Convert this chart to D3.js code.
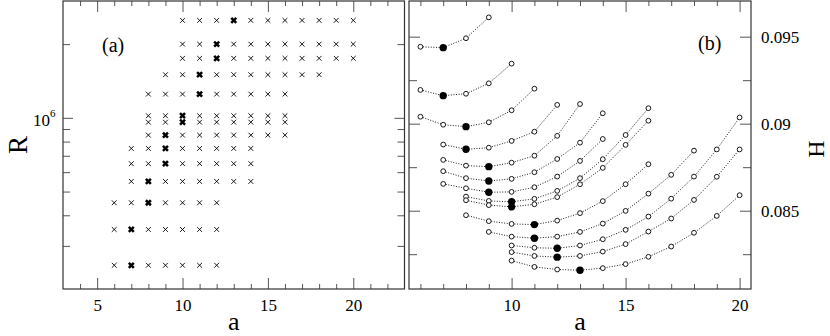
<!DOCTYPE html>
<html lang="en">

<head>
    <meta charset="UTF-8">
    <title>R and H against a</title>
    <script src="https://d3js.org/d3.v7.min.js"></script>
    <style>
        body {
            margin: 0;
            padding: 0;
            background: #fff;
        }

        svg text {
            font-family: "Liberation Serif", "DejaVu Serif", serif;
            fill: #000;
        }
    </style>
</head>

<body>
    <svg id="vis" width="830" height="336"></svg>
    <script>
        // panel (a): one row of crosses per R, a from first to last, bold at best a
        const rowR = [2.5e6, 2.0e6, 1.75e6, 1.5e6, 1.25e6, 1.02e6, 0.96e6, 8.5e5, 7.5e5, 6.5e5, 5.5e5, 4.5e5, 3.5e5, 2.5e5];
        const rowFirstA = [10, 10, 10, 9, 8, 8, 8, 8, 7, 7, 7, 6, 6, 6];
        const rowLastA = [20, 20, 20, 18, 16, 16, 16, 16, 14, 14, 14, 12, 12, 12];
        const rowBestA = [13, 12, 12, 11, 11, 10, 10, 9, 9, 9, 8, 8, 7, 7];

        // panel (b): H for each curve, starting at curveFirstA, filled dot at curveBestA
        const curveFirstA = [6, 6, 6, 7, 7, 7, 7, 8, 8, 8, 9, 10, 10, 10];
        const curveBestA = [7, 7, 8, 8, 9, 9, 9, 10, 10, 11, 11, 12, 12, 13];
        const curveH = [
            [0.09442, 0.09437, 0.09491, 0.09611],
            [0.09194, 0.09161, 0.09172, 0.09232, 0.09345],
            [0.09040, 0.08994, 0.08983, 0.09008, 0.09077, 0.09201],
            [0.08880, 0.08853, 0.08862, 0.08901, 0.08954, 0.09108],
            [0.08792, 0.08759, 0.08753, 0.08776, 0.08816, 0.08930, 0.09113],
            [0.08727, 0.08687, 0.08671, 0.08683, 0.08721, 0.08797, 0.08891, 0.09060],
            [0.08654, 0.08629, 0.08606, 0.08608, 0.08635, 0.08696, 0.08786, 0.08912],
            [0.08581, 0.08556, 0.08551, 0.08568, 0.08614, 0.08687, 0.08796, 0.08935, 0.09089],
            [0.08560, 0.08532, 0.08522, 0.08537, 0.08578, 0.08652, 0.08746, 0.08878, 0.09017],
            [0.08474, 0.08440, 0.08424, 0.08420, 0.08443, 0.08486, 0.08555, 0.08652, 0.08767],
            [0.08378, 0.08351, 0.08342, 0.08351, 0.08378, 0.08426, 0.08499, 0.08598, 0.08706, 0.08845],
            [0.08300, 0.08287, 0.08284, 0.08300, 0.08336, 0.08390, 0.08466, 0.08569, 0.08696, 0.08852, 0.09036],
            [0.08262, 0.08240, 0.08233, 0.08240, 0.08265, 0.08308, 0.08380, 0.08455, 0.08562, 0.08695, 0.08852],
            [0.08213, 0.08177, 0.08162, 0.08158, 0.08170, 0.08193, 0.08235, 0.08294, 0.08373, 0.08470, 0.08589]
        ];

        // ticks
        const aMajorA = [5, 10, 15, 20];
        const aMinorA = [4, 6, 7, 8, 9, 11, 12, 13, 14, 16, 17, 18, 19, 21, 22];
        const rMajor = [1e6];
        const rMinor = [3e5, 4e5, 5e5, 6e5, 7e5, 8e5, 9e5, 2e6];
        const aMajorB = [10, 15, 20];
        const aMinorB = [6, 7, 8, 9, 11, 12, 13, 14, 16, 17, 18, 19];
        const hMajor = [0.085, 0.09, 0.095];
        const hMinor = [0.0825, 0.0875, 0.0925];

        const svg = d3.select("#vis");
        const serif = '"Liberation Serif", "DejaVu Serif", serif';
        const frameColor = "#333";
        const tickColor = "#555";

        const plotTop = 1, plotBottom = 289;
        const xA = d3.scaleLinear().domain([3, 23]).range([63, 404.5]);
        const yA = d3.scaleLog().domain([2e5, 3e6]).range([plotBottom, plotTop]);
        const xB = d3.scaleLinear().domain([5.5, 20.5]).range([409, 751]);
        const yB = d3.scaleLinear().domain([0.0805, 0.09705]).range([plotBottom, plotTop]);

        function tickLines(g, axis) {
            g.call(axis);
            g.attr("font-family", null);
            g.select(".domain").remove();
            g.selectAll(".tick line").attr("stroke", tickColor);
            g.selectAll(".tick text").attr("font-size", 17).style("font-family", serif);
        }

        // inward ticks on top and bottom, labels under the bottom majors
        function xTicks(x, majors, minors) {
            svg.append("g").attr("transform", `translate(0,${plotBottom})`)
                .call(g => tickLines(g, d3.axisBottom(x).tickValues(minors).tickSize(-5).tickFormat("")));
            svg.append("g").attr("transform", `translate(0,${plotTop})`)
                .call(g => tickLines(g, d3.axisTop(x).tickValues(minors).tickSize(-5).tickFormat("")));
            svg.append("g").attr("transform", `translate(0,${plotTop})`)
                .call(g => tickLines(g, d3.axisTop(x).tickValues(majors).tickSize(-11).tickFormat("")));
            svg.append("g").attr("transform", `translate(0,${plotBottom})`)
                .call(g => tickLines(g, d3.axisBottom(x).tickValues(majors).tickSize(-11).tickPadding(10).tickFormat(d3.format("d"))));
        }

        // ---- panel (a)
        xTicks(xA, aMajorA, aMinorA);
        [[63, d3.axisRight], [404.5, d3.axisLeft]].forEach(([px, ax]) => {
            svg.append("g").attr("transform", `translate(${px},0)`)
                .call(g => tickLines(g, ax(yA).tickValues(rMinor).tickSize(7).tickFormat("")));
            svg.append("g").attr("transform", `translate(${px},0)`)
                .call(g => tickLines(g, ax(yA).tickValues(rMajor).tickSize(10).tickFormat("")));
        });
        const tenSix = svg.append("text")
            .attr("x", 33)
            .attr("y", yA(1e6) + 8.5)
            .attr("font-size", 17)
            .style("font-family", serif)
            .text("10");
        tenSix.append("tspan").attr("font-size", 11).attr("dy", -9).text("6");

        svg.append("rect")
            .attr("x", xA.range()[0]).attr("y", plotTop)
            .attr("width", xA.range()[1] - xA.range()[0]).attr("height", plotBottom - plotTop)
            .attr("fill", "none").attr("stroke", frameColor).attr("stroke-width", 1.2);

        const crossSmall = "M-2.4,-2.4L2.4,2.4M-2.4,2.4L2.4,-2.4";
        const crossBold = "M-2.5,-2.5L2.5,2.5M-2.5,2.5L2.5,-2.5";
        const crosses = [];
        rowR.forEach((r, i) => {
            for (let a = rowFirstA[i]; a <= rowLastA[i]; a++) {
                crosses.push({ a: a, r: r, best: a === rowBestA[i] });
            }
        });
        svg.append("g").selectAll("path")
            .data(crosses)
            .join("path")
            .attr("transform", d => `translate(${xA(d.a)},${yA(d.r)})`)
            .attr("d", d => d.best ? crossBold : crossSmall)
            .attr("stroke", "#000")
            .attr("stroke-width", d => d.best ? 2.5 : 0.9)
            .attr("fill", "none");

        svg.append("text").attr("x", 102).attr("y", 52).attr("font-size", 20).text("(a)");
        svg.append("text").attr("x", xA(13)).attr("y", 330).attr("font-size", 26)
            .attr("text-anchor", "middle").text("a");
        svg.append("text").attr("transform", `translate(26.5,145) rotate(-90)`)
            .attr("font-size", 27).attr("text-anchor", "middle").text("R");

        // ---- panel (b)
        xTicks(xB, aMajorB, aMinorB);
        [[409, d3.axisRight], [751, d3.axisLeft]].forEach(([px, ax]) => {
            svg.append("g").attr("transform", `translate(${px},0)`)
                .call(g => tickLines(g, ax(yB).tickValues(hMinor).tickSize(8).tickFormat("")));
            svg.append("g").attr("transform", `translate(${px},0)`)
                .call(g => tickLines(g, ax(yB).tickValues(hMajor).tickSize(11).tickFormat("")));
        });
        svg.append("g").attr("transform", `translate(751,0)`)
            .call(g => tickLines(g, d3.axisRight(yB).tickValues(hMajor).tickSize(0).tickPadding(10).tickFormat(d3.format(""))));

        svg.append("rect")
            .attr("x", xB.range()[0]).attr("y", plotTop)
            .attr("width", xB.range()[1] - xB.range()[0]).attr("height", plotBottom - plotTop)
            .attr("fill", "none").attr("stroke", frameColor).attr("stroke-width", 1.2);

        const curves = curveH.map((hs, i) => hs.map((h, j) => ({
            a: curveFirstA[i] + j, h: h, best: curveFirstA[i] + j === curveBestA[i]
        })));
        const line = d3.line().x(d => xB(d.a)).y(d => yB(d.h));

        svg.append("g").selectAll("path")
            .data(curves)
            .join("path")
            .attr("d", line)
            .attr("fill", "none")
            .attr("stroke", "#000")
            .attr("stroke-width", 0.9)
            .attr("stroke-dasharray", "1,1.6");

        svg.append("g").selectAll("circle")
            .data(curves.flat())
            .join("circle")
            .attr("cx", d => xB(d.a))
            .attr("cy", d => yB(d.h))
            .attr("r", d => d.best ? 3.7 : 2.4)
            .attr("fill", d => d.best ? "#000" : "#fff")
            .attr("stroke", "#000")
            .attr("stroke-width", d => d.best ? 0 : 0.9);

        svg.append("text").attr("x", 698).attr("y", 50).attr("font-size", 20).text("(b)");
        svg.append("text").attr("x", xB(13)).attr("y", 330).attr("font-size", 26)
            .attr("text-anchor", "middle").text("a");
        svg.append("text").attr("transform", `translate(824,149) rotate(-90)`)
            .attr("font-size", 24).attr("text-anchor", "middle").text("H");
    </script>
</body>

</html>
